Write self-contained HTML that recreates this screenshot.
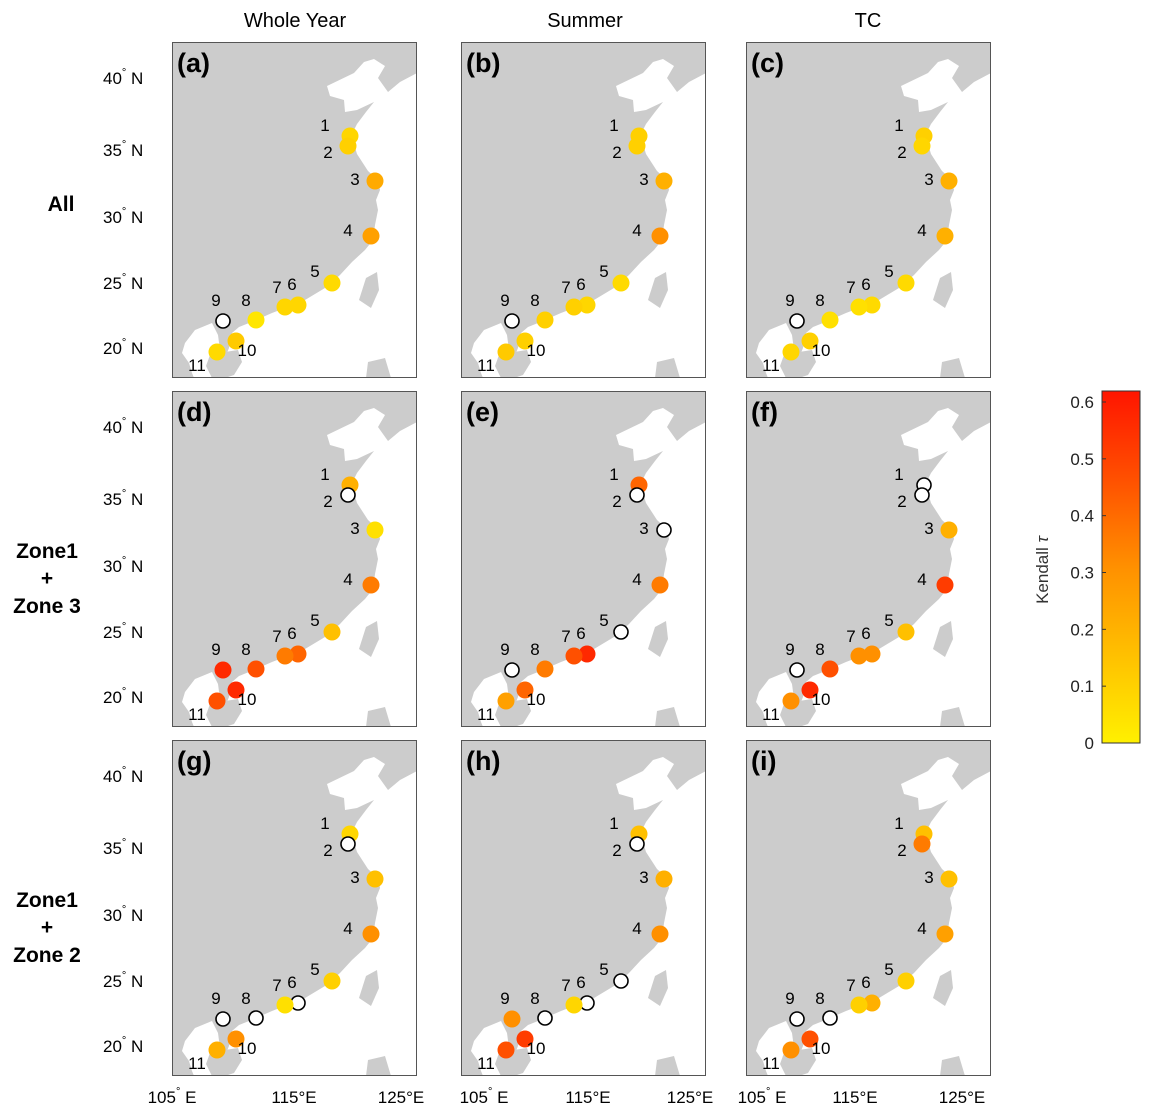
<!DOCTYPE html>
<html><head><meta charset="utf-8">
<style>
html,body{margin:0;padding:0;background:#fff;}
svg{display:block;font-family:"Liberation Sans",Arial,sans-serif;}
</style></head>
<body>
<svg id="fig" width="1151" height="1115" viewBox="0 0 1151 1115" xmlns="http://www.w3.org/2000/svg">
<defs>
<linearGradient id="cbg" x1="0" y1="1" x2="0" y2="0">
<stop offset="0" stop-color="#fff000"/>
<stop offset="0.25" stop-color="#ffc000"/>
<stop offset="0.5" stop-color="#ff9000"/>
<stop offset="0.75" stop-color="#ff5000"/>
<stop offset="1" stop-color="#ff1500"/>
</linearGradient>
</defs>
<g id="root"></g>
</svg>
<script>
// ---- data ----
const panelLetters = ['a','b','c','d','e','f','g','h','i'];
const columnTitles = ['Whole Year','Summer','TC'];
const stationIds = ['1','2','3','4','5','6','7','8','9','10','11'];
// Kendall tau per station (null = not significant, hollow marker)
const tauA = [0.08,0.10,0.22,0.25,0.07,0.08,0.08,0.03,null,0.12,0.07];
const tauB = [0.10,0.10,0.20,0.30,0.07,0.08,0.10,0.10,null,0.10,0.12];
const tauC = [0.10,0.08,0.20,0.20,0.07,0.07,0.05,0.05,null,0.10,0.08];
const tauD = [0.20,null,0.05,0.35,0.15,0.40,0.35,0.45,0.55,0.55,0.45];
const tauE = [0.40,null,null,0.35,null,0.55,0.45,0.35,null,0.40,0.25];
const tauF = [null,null,0.20,0.50,0.15,0.30,0.30,0.45,null,0.55,0.30];
const tauG = [0.08,null,0.15,0.30,0.10,null,0.05,null,null,0.30,0.20];
const tauH = [0.15,null,0.20,0.30,null,null,0.08,null,0.30,0.50,0.45];
const tauI = [0.15,0.35,0.15,0.25,0.10,0.20,0.10,null,null,0.45,0.30];
const cbTicks = [0,0.1,0.2,0.3,0.4,0.5,0.6];
const latTicks = ['40','35','30','25','20'];

// ---- layout ----
const NS='http://www.w3.org/2000/svg';
const root=document.getElementById('root');
function mk(tag,attrs,parent){const e=document.createElementNS(NS,tag);for(const k in attrs)e.setAttribute(k,attrs[k]);(parent||root).appendChild(e);return e;}
const colX=[172,461,746], rowY=[42,391,740], PW=245, PH=336;
const allTau=[tauA,tauB,tauC,tauD,tauE,tauF,tauG,tauH,tauI];
const stPos=[[178,94],[176,104],[203,139],[199,194],[160,241],[126,263],[113,265],[84,278],[51,279],[64,299],[45,310]];
const lbPos=[[153,89],[156,116],[183,143],[176,194],[143,235],[120,248],[105,251],[74,264],[44,264],[75,314],[25,329]];
const sea=[[417,73],[400,82],[388,92],[378,78],[385,66],[374,59],[364,62],[354,73],[327,86],[330,96],[344,100],[345,112],[357,110],[374,102],[366,112],[357,124],[354,130],[354,144],[357,154],[368,171],[378,180],[380,190],[376,200],[378,210],[375,225],[373,240],[365,250],[352,262],[340,275],[325,288],[305,300],[285,308],[272,313],[249,323],[239,327],[232,333],[229,348],[226,355],[220,350],[218,335],[212,323],[195,330],[185,343],[182,353],[189,363],[192,373],[194,378],[417,378]];
const hainan=[[210,355],[225,352],[238,350],[242,362],[234,375],[225,378],[212,378],[206,366]];
const taiwan=[[366,278],[377,272],[379,290],[371,308],[359,300]];
const luzon=[[368,362],[385,358],[391,378],[366,378]];
function pts(a,dx,dy){return a.map(p=>(p[0]-172+dx)+','+(p[1]-42+dy)).join(' ');}

const cmap=[[0,[255,240,0]],[0.15,[255,192,0]],[0.3,[255,144,0]],[0.45,[255,80,0]],[0.6,[255,21,0]]];
function col(v){v=Math.max(0,Math.min(0.6,v));for(let i=0;i<cmap.length-1;i++){const [a,ca]=cmap[i],[b,cb]=cmap[i+1];if(v<=b){const t=(v-a)/(b-a);return 'rgb('+ca.map((c,k)=>Math.round(c+(cb[k]-c)*t)).join(',')+')';}}return 'rgb(255,21,0)';}

for(let r=0;r<3;r++)for(let c=0;c<3;c++){
  const idx=r*3+c, x0=colX[c], y0=rowY[r];
  const g=mk('g',{});
  
  
  mk('rect',{x:x0,y:y0,width:PW,height:PH,fill:'#cccccc'},g);
  mk('polygon',{points:pts(sea,x0,y0),fill:'#fff'},g);
  [hainan,taiwan,luzon].forEach(p=>mk('polygon',{points:pts(p,x0,y0),fill:'#cccccc'},g));
  mk('rect',{x:x0+0.5,y:y0+0.5,width:PW-1,height:PH-1,fill:'none',stroke:'#555',"stroke-width":1},g);
  const pl=mk('text',{x:x0+5,y:y0+30,"font-size":27,"font-weight":"bold",fill:'#000'},g);
  pl.textContent='('+panelLetters[idx]+')';
  
  
  const tau=allTau[idx];
  stationIds.forEach((id,i)=>{
    const v=tau[i];
    const m=mk('circle',{cx:x0+stPos[i][0],cy:y0+stPos[i][1],r:v===null?7:8.5,fill:v===null?'#fff':col(v),stroke:v===null?'#000':'none',"stroke-width":1.6},g);
    
    
    const t=mk('text',{x:x0+lbPos[i][0],y:y0+lbPos[i][1],"font-size":17,"text-anchor":"middle",fill:'#000'},g);
    t.textContent=id;
    
    
  });
}
const ctx=[295,585,868];
columnTitles.forEach((s,i)=>{const t=mk('text',{x:ctx[i],y:27,"font-size":20,"text-anchor":"middle"});t.textContent=s;

});
const rowLabels=[[['All',211]],[['Zone1',558],['+',585],['Zone 3',613]],[['Zone1',907],['+',934],['Zone 2',962]]];
rowLabels.forEach(rl=>rl.forEach(([s,y])=>{const t=mk('text',{x:s==='All'?61:47,y:y,"font-size":21,"font-weight":"bold","text-anchor":"middle"});t.textContent=s;

}));
const latY=[78,150,217,283,348];
for(let r=0;r<3;r++)latTicks.forEach((s,i)=>{const t=mk('text',{x:103,y:rowY[r]-42+latY[i]+6,"font-size":17});
t.innerHTML=s+'<tspan dy="-8" font-size="11">°</tspan><tspan dy="8"> N</tspan>';

});
const lonLab=[[[105,172,true],[115,294,false],[125,401,false]],[[105,484,true],[115,588,false],[125,690,false]],[[105,762,true],[115,855,false],[125,962,false]]];
lonLab.forEach(cl=>cl.forEach(([v,x,sup])=>{const t=mk('text',{x:x,y:1103,"font-size":17,"text-anchor":"middle"});
t.innerHTML=sup?v+'<tspan dy="-8" font-size="11">°</tspan><tspan dy="8"> E</tspan>':v+'°E';

}));
const cbX=1102,cbW=38,cbY0=743,cbPer=(743-402)/0.6;
const cb=mk('rect',{x:cbX,y:391,width:cbW,height:352,fill:'url(#cbg)',stroke:'#333',"stroke-width":1});


cbTicks.forEach(v=>{const y=cbY0-v*cbPer;
mk('line',{x1:cbX,x2:cbX+4,y1:y,y2:y,stroke:'#333'});
const t=mk('text',{x:cbX-8,y:y+6,"font-size":17,"text-anchor":"end",fill:'#222'});t.textContent=String(v);

});
const ct=mk('text',{x:1048,y:570,"font-size":17,"text-anchor":"middle",fill:'#333',transform:'rotate(-90 1048 570)'});
ct.innerHTML='Kendall <tspan font-style="italic">τ</tspan>';


</script>
</body></html>
